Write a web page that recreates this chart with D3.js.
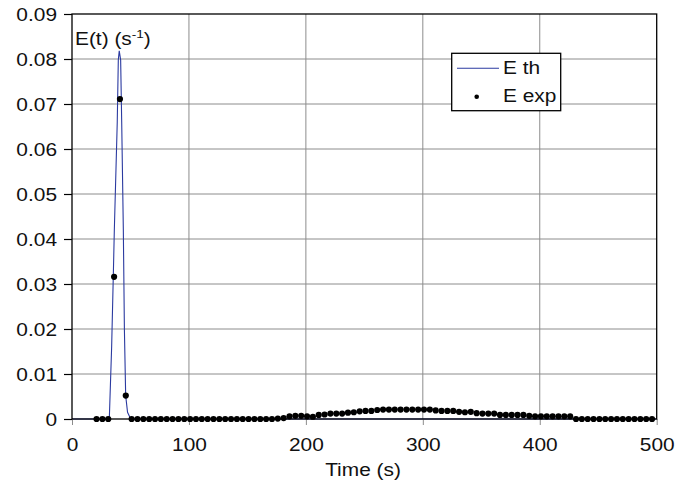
<!DOCTYPE html>
<html>
<head>
<meta charset="utf-8">
<script src="https://cdn.jsdelivr.net/npm/d3@7/dist/d3.min.js"></script>
<style>
  html, body { margin: 0; padding: 0; background: #fff; }
  svg { display: block; }
  text { font-family: "Liberation Sans", Arial, sans-serif; fill: #111; }
</style>
</head>
<body>
<svg id="chart" width="692" height="488"></svg>
<script>
// ---- data ----
const xTicks = [0, 100, 200, 300, 400, 500];
const yTicks = [0, 0.01, 0.02, 0.03, 0.04, 0.05, 0.06, 0.07, 0.08, 0.09];

// theoretical curve E th
const thTimes  = [0, 31.9, 33.9, 35.3, 36.2, 38.7, 39.6, 40.4, 41.6, 42.5, 43.9, 44.8, 45.9, 47.5, 50.2, 500];
const thValues = [0, 0, 0.016, 0.0316, 0.042, 0.066, 0.0798, 0.0818, 0.0798, 0.066, 0.042, 0.02, 0.0052, 0.0015, 0, 0];

// experimental points E exp
const expTimes = [21,26,31,36,41,46,51,56,61,66,71,76,81,86,91,96,101,106,111,116,121,126,131,136,141,146,151,156,161,166,171,176,181,186,191,196,201,206,211,216,221,226,231,236,241,246,251,256,261,266,271,276,281,286,291,296,301,306,311,316,321,326,331,336,341,346,351,356,361,366,371,376,381,386,391,396,401,406,411,416,421,426,431,436,441,446,451,456,461,466,471,476,481,486,491,496];
const expValues = [
  0, 0, 0, 0.0316, 0.0711, 0.0052,
  0, 0, 0, 0, 0, 0, 0, 0, 0, 0, 0, 0, 0, 0, 0, 0, 0, 0, 0, 0, 0, 0, 0, 0, 0, 0.0001,
  0.0002, 0.0006, 0.0007, 0.0007, 0.0006, 0.0005,
  0.0009, 0.001, 0.0012, 0.0012, 0.0012, 0.0014, 0.0015, 0.0017, 0.0018, 0.0018, 0.002,
  0.0021, 0.0021, 0.0021, 0.0021, 0.0021, 0.0021, 0.0021, 0.0021, 0.0021,
  0.0019, 0.0018, 0.0018, 0.0018, 0.0016, 0.0015, 0.0016,
  0.0013, 0.0012, 0.0012, 0.0012,
  0.0009, 0.0009, 0.0009, 0.0009, 0.0009,
  0.0007, 0.0006, 0.0006, 0.0006, 0.0006, 0.0006, 0.0006, 0.0006,
  0, 0, 0, 0, 0, 0, 0, 0, 0, 0, 0, 0, 0, 0
];

const seriesNames = ["E th", "E exp"];
const xTitle = "Time (s)";

// ---- layout ----
const W = 692, H = 488;
const m = { left: 72, top: 14, right: 35.3, bottom: 69 };
const iw = W - m.left - m.right, ih = H - m.top - m.bottom;
const SX = 1.18; // horizontal stretch of the text in the reference
const FS = 17.7;

const svg = d3.select("#chart");
const g = svg.append("g").attr("transform", `translate(${m.left},${m.top})`);

const x = d3.scaleLinear().domain([0, 500]).range([0, iw]);
const y = d3.scaleLinear().domain([0, 0.09]).range([ih, 0]);

// gridlines
g.append("g").selectAll("line.h").data(yTicks.filter(d => d > 0 && d < 0.09)).join("line")
  .attr("x1", 0).attr("x2", iw).attr("y1", d => y(d)).attr("y2", d => y(d))
  .attr("stroke", "#8c8c8c").attr("stroke-width", 1);
g.append("g").selectAll("line.v").data(xTicks.filter(d => d > 0 && d < 500)).join("line")
  .attr("y1", 0).attr("y2", ih).attr("x1", d => x(d)).attr("x2", d => x(d))
  .attr("stroke", "#8c8c8c").attr("stroke-width", 1);

// theoretical line
const thData = thTimes.map((t, i) => [t, thValues[i]]);
g.append("path").datum(thData)
  .attr("fill", "none").attr("stroke", "#2b3aa0").attr("stroke-width", 1.1)
  .attr("d", d3.line().x(d => x(d[0])).y(d => y(d[1])));

// axes
const yAxis = d3.axisLeft(y).tickValues(yTicks).tickSize(8)
  .tickFormat(d => d === 0 ? "0" : d3.format(".2f")(d));
const ya = g.append("g").call(yAxis);
ya.select(".domain").remove();
ya.selectAll(".tick line").attr("stroke", "#000").attr("stroke-width", 1.2);
ya.selectAll(".tick text")
  .attr("x", null).attr("dy", null)
  .attr("transform", `translate(-15,${FS*0.36}) scale(${SX},1)`)
  .attr("text-anchor", "end")
  .style("font-size", FS + "px").style("font-family", "'Liberation Sans', Arial, sans-serif").attr("fill", "#111");

const xAxis = d3.axisBottom(x).tickValues(xTicks).tickSize(6).tickFormat(d3.format("d"));
const xa = g.append("g").attr("transform", `translate(0,${ih})`).call(xAxis);
xa.select(".domain").remove();
xa.selectAll(".tick line").attr("stroke", "#8c8c8c").attr("stroke-width", 1);
xa.selectAll(".tick text")
  .attr("y", null).attr("dy", null)
  .attr("transform", `translate(0,32) scale(${SX},1)`)
  .attr("text-anchor", "middle")
  .style("font-size", FS + "px").style("font-family", "'Liberation Sans', Arial, sans-serif").attr("fill", "#111");

// frame
g.append("rect").attr("x", 0).attr("y", 0).attr("width", iw).attr("height", ih)
  .attr("fill", "none").attr("stroke", "#000").attr("stroke-width", 1.3);

// experimental dots
const expData = expTimes.map((t, i) => [t, expValues[i]]);
g.append("g").selectAll("circle").data(expData).join("circle")
  .attr("cx", d => x(d[0])).attr("cy", d => y(d[1])).attr("r", 3.1)
  .attr("fill", "#000");

// y title
const yt = svg.append("text")
  .attr("transform", `translate(75,45) scale(${SX},1)`)
  .style("font-size", FS + "px");
yt.append("tspan").text("E(t) (s");
yt.append("tspan").attr("dy", -7).style("font-size", "11.5px").text("-1");
yt.append("tspan").attr("dy", 7).text(")");

// x title
svg.append("text")
  .attr("transform", `translate(363,476) scale(${SX},1)`)
  .attr("text-anchor", "middle")
  .style("font-size", FS + "px")
  .text(xTitle);

// legend
const lg = svg.append("g");
lg.append("rect").attr("x", 451.7).attr("y", 53.3).attr("width", 109).attr("height", 57.4)
  .attr("fill", "#fff").attr("stroke", "#000").attr("stroke-width", 1.3);
lg.append("line").attr("x1", 457).attr("x2", 499).attr("y1", 68.3).attr("y2", 68.3)
  .attr("stroke", "#2b3aa0").attr("stroke-width", 1.1);
lg.append("circle").attr("cx", 476.7).attr("cy", 96.7).attr("r", 2.3).attr("fill", "#000");
lg.append("text").attr("transform", `translate(503,74) scale(${SX},1)`)
  .style("font-size", FS + "px").text(seriesNames[0]);
lg.append("text").attr("transform", `translate(503,102) scale(${SX},1)`)
  .style("font-size", FS + "px").text(seriesNames[1]);
</script>
</body>
</html>
